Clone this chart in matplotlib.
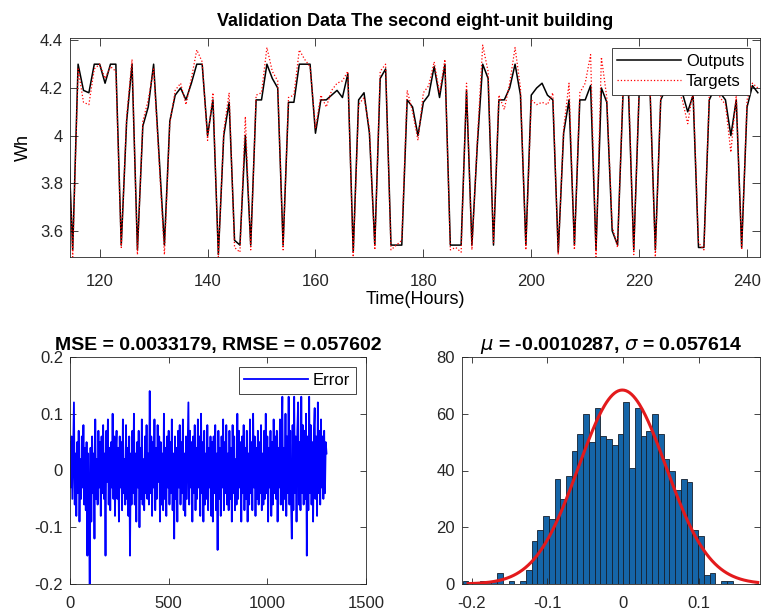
import numpy as np
import matplotlib
matplotlib.use("Agg")
import matplotlib.pyplot as plt
from matplotlib.ticker import FuncFormatter

# ---- top panel: hourly validation data ----
hours = list(range(114, 243))
outputs = [
    4.10, 3.52, 4.30, 4.19, 4.18, 4.30, 4.30, 4.22, 4.30, 4.30,
    3.54, 4.06, 4.30, 3.52, 4.04, 4.12, 4.30, 3.92, 3.54, 4.06,
    4.17, 4.20, 4.15, 4.22, 4.30, 4.30, 4.00, 4.15, 3.50, 4.00,
    4.14, 3.56, 3.54, 4.00, 3.54, 4.15, 4.15, 4.30, 4.24, 4.20,
    3.54, 4.14, 4.14, 4.30, 4.30, 4.30, 4.01, 4.15, 4.15, 4.17,
    4.19, 4.16, 4.26, 3.51, 4.15, 4.18, 4.01, 3.54, 4.24, 4.28,
    3.54, 3.54, 3.54, 4.15, 4.12, 4.00, 4.14, 4.17, 4.29, 4.16,
    4.30, 3.54, 3.54, 3.54, 4.19, 3.54, 3.96, 4.30, 4.24, 3.54,
    4.15, 4.15, 4.20, 4.30, 4.17, 3.54, 4.17, 4.20, 4.22, 4.17,
    4.15, 3.51, 4.01, 4.15, 3.54, 4.15, 4.15, 4.21, 3.52, 4.20,
    4.14, 3.60, 3.54, 4.17, 4.20, 3.52, 4.18, 4.20, 4.20, 3.52,
    4.15, 4.20, 4.20, 4.18, 4.18, 4.10, 4.17, 3.53, 3.53, 4.15,
    4.20, 4.18, 4.15, 4.00, 4.15, 3.53, 4.12, 4.21, 4.18,
]
targets = [
    4.12, 3.49, 4.28, 4.14, 4.13, 4.28, 4.30, 4.24, 4.29, 4.27,
    3.53, 4.08, 4.32, 3.50, 4.06, 4.15, 4.28, 3.90, 3.50, 4.05,
    4.19, 4.22, 4.13, 4.24, 4.36, 4.31, 3.98, 4.18, 3.49, 4.02,
    4.18, 3.53, 3.51, 4.08, 3.52, 4.17, 4.18, 4.37, 4.27, 4.23,
    3.52, 4.16, 4.17, 4.36, 4.32, 4.29, 4.03, 4.17, 4.12, 4.19,
    4.22, 4.23, 4.27, 3.49, 4.13, 4.16, 4.03, 3.52, 4.27, 4.30,
    3.52, 3.54, 3.56, 4.19, 4.10, 3.98, 4.18, 4.21, 4.31, 4.18,
    4.32, 3.52, 3.53, 3.51, 4.22, 3.52, 3.98, 4.38, 4.27, 3.55,
    4.17, 4.11, 4.22, 4.37, 4.20, 3.52, 4.15, 4.13, 4.14, 4.13,
    4.18, 3.50, 4.03, 4.22, 3.52, 4.18, 4.22, 4.34, 3.49, 4.33,
    4.16, 3.62, 3.53, 4.19, 4.24, 3.50, 4.20, 4.17, 4.22, 3.49,
    4.17, 4.22, 4.19, 4.20, 4.15, 4.05, 4.19, 3.55, 3.52, 4.17,
    4.22, 4.16, 4.13, 3.93, 4.17, 3.52, 4.15, 4.22, 4.20,
]

# ---- bottom left: error, one value every 4 samples (in 1/100 Wh) ----
err_step = 4
err_cents = [
    5, -3, 6, -5, 4, 12, -6, 3, -8, 5, -4, 7, -9, 2, -5, 6, -3, 8, -6, 4,
    -7, 5, -15, 3, -6, -20, 4, -9, 6, -4, 3, -12, 9, -5, 2, -6, 7, -3, 5, -8,
    6, -4, 8, -5, 3, -15, 7, -2, 9, -6, 4, -7, 5, -3, 10, -5, 6, -8, 3, 7,
    -5, 4, -9, 6, -3, 5, -7, 9, -4, 2, -6, 8, -5, 4, -8, 6, -15, 3, -6, 7,
    -4, 10, -6, 3, -9, 5, -3, 7, -10, 4, -5, 9, -6, 2, -7, 6, -4, 8, -5, 3,
    -6, 14, -4, 6, -8, 5, -3, 9, -7, 4, -5, 8, -2, 6, -9, 5, -6, 3, -7, 10,
    -5, 4, -8, 6, -3, 7, -6, 5, -4, 9, -7, 3, -12, 6, -5, 4, -9, 7, -3, 8,
    -6, 5, -4, 9, -7, 3, -8, 6, -5, 4, 12, -6, 7, -3, 5, -9, 6, -4, 8, -7,
    4, -5, 9, -3, 6, -8, 10, -4, 5, -9, 7, -6, 3, -5, 8, -7, 4, -3, 6, -8,
    5, -9, 6, -4, 8, -7, 3, -14, 7, -5, 4, -8, 6, -3, 9, -7, 5, -4, 8, -6,
    3, -7, 7, -5, 4, -9, 8, -4, 6, -7, 2, -6, 10, -5, 7, -3, 5, -9, 6, -4,
    8, -7, 4, -5, 7, -9, 3, -6, 9, -4, 5, -7, 10, -3, 6, -8, 4, -5, 7, -6,
    5, -4, 8, -7, 3, -6, 7, -5, 10, -4, 6, -9, 4, -3, 7, -8, 5, -6, 9, -4,
    6, -5, 7, -9, 4, -3, 9, -6, 5, 13, -7, 4, -5, 10, -8, 6, -4, 13, -6, 7,
    -5, -12, 8, -7, 13, -4, 6, -9, 7, 12, -6, 5, -7, 13, -4, 8, -6, 7, -5, 10,
    -15, 6, -7, 13, -4, 8, -6, 5, -9, 7, 11, -5, 6, -8, 12, -4, 7, -6, 9, -3,
    6, -5, 7, -4, 5, 3,
]

# ---- bottom right: histogram of the error ----
bin_width = 0.0076
first_edge = -0.2123
hist_counts = [
    1, 0, 0, 1, 1, 1, 4, 0, 1, 0, 1, 5, 15, 19, 24, 23, 37, 30, 38, 47,
    53, 60, 50, 62, 52, 51, 49, 53, 64, 41, 62, 52, 54, 60, 53, 44, 40, 33,
    37, 36, 19, 17, 3, 4, 0, 1, 1,
]
mu = -0.0010287
sigma = 0.057614
mse = 0.0033179
rmse = 0.057602

plt.rcParams['font.family'] = ['Liberation Sans', 'DejaVu Sans']
plt.rcParams['axes.unicode_minus'] = False
plt.rcParams['axes.edgecolor'] = '#262626'
plt.rcParams['xtick.color'] = '#262626'
plt.rcParams['ytick.color'] = '#262626'

TICK_FS = 12
TITLE_FS = 13
SUB_TITLE_FS = 14
LEG_FS = 12

W, H = 767, 614
fig = plt.figure(figsize=(W / 100, H / 100), dpi=100)


def box(left, top, right, bottom):
    return [left / W, 1 - bottom / H, (right - left) / W, (bottom - top) / H]


def fmt(v, pos):
    return '%g' % round(v, 6)


def style(ax, tick_len, xpad):
    ax.tick_params(direction='in', top=True, right=True, length=tick_len,
                   width=0.6, labelsize=TICK_FS)
    ax.tick_params(axis='x', pad=xpad)
    ax.tick_params(axis='y', pad=5)
    ax.xaxis.set_major_formatter(FuncFormatter(fmt))
    ax.yaxis.set_major_formatter(FuncFormatter(fmt))
    for s in ax.spines.values():
        s.set_linewidth(0.6)


def add_legend(ax, spacing):
    leg = ax.legend(loc='upper right', fancybox=False, framealpha=1,
                    edgecolor='#262626', fontsize=LEG_FS, handlelength=3.8,
                    borderaxespad=0.6, borderpad=0.35, labelspacing=spacing,
                    handletextpad=0.3)
    leg.get_frame().set_linewidth(0.6)


# top panel
ax1 = fig.add_axes(box(70, 38, 760, 257))
ax1.plot(hours, outputs, color='k', lw=1.1, label='Outputs')
ax1.plot(hours, targets, color='r', ls=':', lw=0.9, label='Targets')
ax1.set_xlim(114.5, 242.4)
ax1.set_ylim(3.49, 4.41)
ax1.set_xticks([120, 140, 160, 180, 200, 220, 240])
ax1.set_yticks([3.6, 3.8, 4.0, 4.2, 4.4])
style(ax1, 6, 12)
ax1.set_xlabel('Time(Hours)', fontsize=TITLE_FS, labelpad=2)
ax1.set_ylabel('Wh', fontsize=TITLE_FS, labelpad=6)
ax1.set_title('Validation Data The second eight-unit building',
              fontsize=TITLE_FS, fontweight='bold', pad=9)
add_legend(ax1, 0.3)

# error panel
ax2 = fig.add_axes(box(70, 357, 366, 584))
err = np.array(err_cents) / 100.0
err_x = np.arange(len(err)) * err_step
ax2.plot(err_x, err, color='b', lw=1.3, label='Error')
ax2.set_xlim(0, 1500)
ax2.set_ylim(-0.2, 0.2)
ax2.set_xticks([0, 500, 1000, 1500])
ax2.set_yticks([-0.2, -0.1, 0, 0.1, 0.2])
style(ax2, 4, 9)
ax2.set_title('MSE = %s, RMSE = %s' % (mse, rmse),
              fontsize=SUB_TITLE_FS, fontweight='bold', pad=5)
add_legend(ax2, 0.3)

# histogram panel
ax3 = fig.add_axes(box(462, 357, 760, 584))
edges = first_edge + np.arange(len(hist_counts)) * bin_width
ax3.bar(edges, hist_counts, width=bin_width, align='edge',
        color='#1565a8', edgecolor='#15202e', linewidth=0.6)
n_total = sum(hist_counts)
xs = np.linspace(-0.205, 0.178, 300)
pdf = np.exp(-0.5 * ((xs - mu) / sigma) ** 2) / (sigma * np.sqrt(2 * np.pi))
ax3.plot(xs, pdf * n_total * bin_width, color='#e31a1c', lw=2.2)
ax3.set_xlim(-0.213, 0.181)
ax3.set_ylim(0, 80)
ax3.set_xticks([-0.2, -0.1, 0, 0.1])
ax3.set_yticks([0, 20, 40, 60, 80])
style(ax3, 4, 9)
ax3.set_title(r'$\mu$ = %s, $\sigma$ = %s' % (mu, sigma),
              fontsize=SUB_TITLE_FS, fontweight='bold', pad=5)

fig.savefig('out.png', dpi=100)
